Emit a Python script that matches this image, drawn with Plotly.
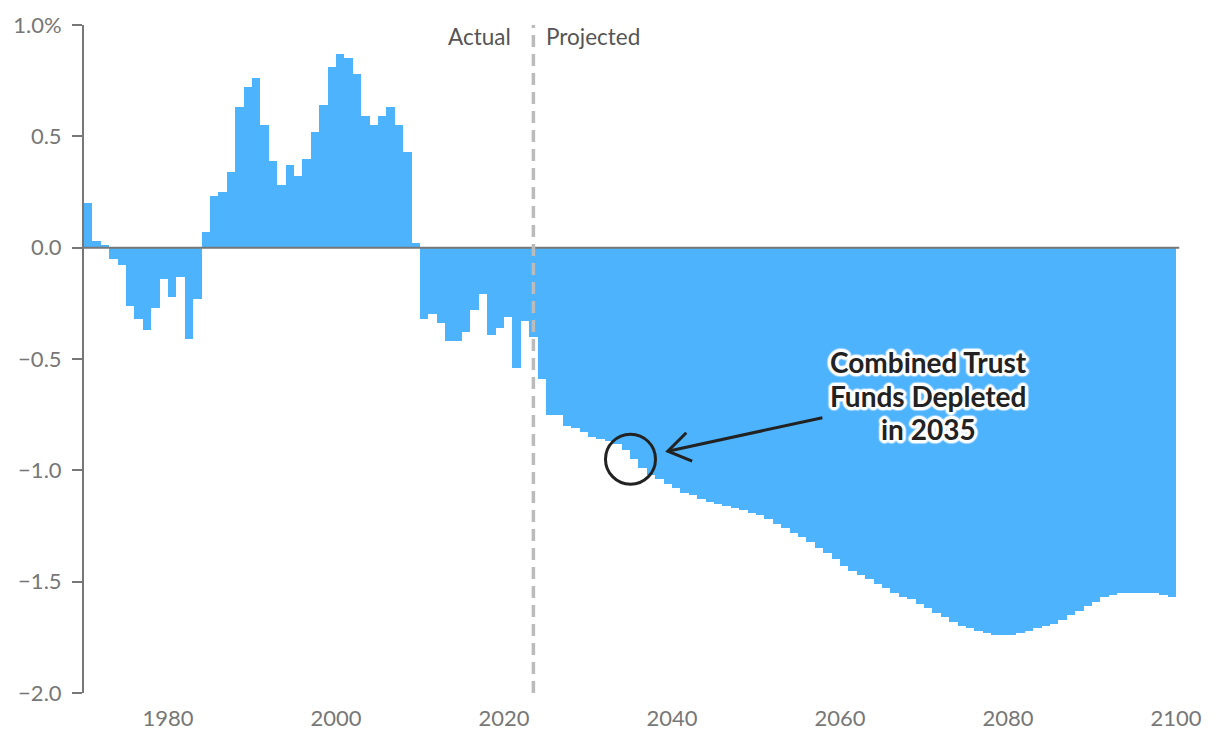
import plotly.graph_objects as go

years = list(range(1970, 2100))
values = [
    0.20, 0.03, 0.01, -0.05, -0.08, -0.26, -0.32, -0.37, -0.27, -0.14,   # 1970-1979
    -0.22, -0.13, -0.41, -0.23, 0.07, 0.23, 0.25, 0.34, 0.63, 0.72,      # 1980-1989
    0.76, 0.55, 0.39, 0.28, 0.37, 0.32, 0.40, 0.52, 0.64, 0.81,          # 1990-1999
    0.87, 0.85, 0.78, 0.59, 0.55, 0.59, 0.63, 0.55, 0.43, 0.02,          # 2000-2009
    -0.32, -0.30, -0.34, -0.42, -0.42, -0.38, -0.28, -0.21, -0.39, -0.36,  # 2010-2019
    -0.31, -0.54, -0.33, -0.40, -0.59, -0.75, -0.75, -0.80, -0.81, -0.83,  # 2020-2029
    -0.85, -0.86, -0.87, -0.88, -0.91, -0.95, -0.99, -1.02, -1.04, -1.06,  # 2030-2039
    -1.08, -1.10, -1.11, -1.13, -1.14, -1.15, -1.16, -1.17, -1.18, -1.19,  # 2040-2049
    -1.20, -1.22, -1.24, -1.26, -1.28, -1.30, -1.32, -1.35, -1.37, -1.40,  # 2050-2059
    -1.43, -1.45, -1.47, -1.49, -1.51, -1.53, -1.55, -1.57, -1.58, -1.60,  # 2060-2069
    -1.62, -1.64, -1.66, -1.68, -1.70, -1.71, -1.72, -1.73, -1.74, -1.74,  # 2070-2079
    -1.74, -1.73, -1.72, -1.71, -1.70, -1.69, -1.67, -1.65, -1.63, -1.61,  # 2080-2089
    -1.59, -1.57, -1.56, -1.55, -1.55, -1.55, -1.55, -1.55, -1.56, -1.57,  # 2090-2099
]

x_tick_vals = [1980, 2000, 2020, 2040, 2060, 2080, 2100]
x_tick_text = ["1980", "2000", "2020", "2040", "2060", "2080", "2100"]
y_tick_vals = [-2.0, -1.5, -1.0, -0.5, 0.0, 0.5, 1.0]
y_tick_text = ["\u22122.0", "\u22121.5", "\u22121.0", "\u22120.5", "0.0", "0.5", "1.0%"]

split_year = 2023.5
depleted_year = 2035
depleted_value = -0.95
note_lines = ["Combined Trust", "Funds Depleted", "in 2035"]

BAR = "#4db3fd"
AXIS = "#777777"
FONT = "Lato"

fig = go.Figure()
fig.add_trace(go.Bar(
    x=years, y=values, width=1, offset=0,
    marker=dict(color=BAR, line=dict(width=0)),
    hoverinfo="x+y",
))

halo_pts = [(3, 0), (-3, 0), (0, 3), (0, -3), (2, 2), (-2, 2), (2, -2), (-2, -2),
            (3, 1), (3, -1), (-3, 1), (-3, -1), (1, 3), (-1, 3), (1, -3), (-1, -3)]
halo = ", ".join(f"{dx}px {dy}px 1.5px white" for dx, dy in halo_pts)

note_annotations = [
    dict(x=2070.5, y=-0.668, xref="x", yref="y", text=line, showarrow=False,
         xanchor="center", yanchor="middle", yshift=34 - 33.5 * i,
         font=dict(family=FONT, size=28, color="#222222", weight="bold", shadow=halo))
    for i, line in enumerate(note_lines)
]

fig.update_layout(
    width=1220, height=746,
    margin=dict(l=84, r=44, t=25, b=53),
    paper_bgcolor="white", plot_bgcolor="white",
    bargap=0, showlegend=False,
    font=dict(family=FONT, size=22, color=AXIS),
    xaxis=dict(
        range=[1970, 2100], tickmode="array", tickvals=x_tick_vals, ticktext=x_tick_text,
        showline=False, ticks="", showgrid=False, zeroline=False,
        tickfont=dict(family=FONT, size=22, color=AXIS), ticklabelstandoff=10,
    ),
    yaxis=dict(
        range=[-2, 1], tickmode="array", tickvals=y_tick_vals, ticktext=y_tick_text,
        showline=True, linecolor=AXIS, linewidth=2,
        ticks="outside", ticklen=10, tickwidth=2, tickcolor=AXIS,
        showgrid=False, zeroline=False,
        tickfont=dict(family=FONT, size=22, color=AXIS), ticklabelstandoff=6,
    ),
    shapes=[
        dict(type="line", xref="x domain", yref="y", x0=0, x1=1.003, y0=0, y1=0,
             line=dict(color=AXIS, width=2), layer="above"),
        dict(type="line", xref="x", yref="paper", x0=split_year, x1=split_year, y0=0, y1=1,
             line=dict(color="#bbbbbb", width=3.5, dash="12px,7px"), layer="above"),
        dict(type="circle", xref="x", yref="y", xsizemode="pixel", ysizemode="pixel",
             xanchor=depleted_year + 0.06, yanchor=depleted_value,
             x0=-25, x1=25, y0=-25, y1=25,
             line=dict(color="#222222", width=3), layer="above"),
        dict(type="line", xref="x", yref="y", x0=2057.9, y0=-0.764, x1=2039.5, y1=-0.914,
             line=dict(color="#222222", width=3), layer="above"),
        dict(type="path", xref="x", yref="y",
             path="M 2041.7 -0.831 L 2039.5 -0.914 L 2042.4 -0.959",
             line=dict(color="#222222", width=3), layer="above"),
    ],
    annotations=[
        dict(x=split_year, y=1, xref="x", yref="paper", text="Actual", showarrow=False,
             xanchor="right", yanchor="middle", xshift=-20, yshift=-11,
             font=dict(family=FONT, size=22.5, color="#555555")),
        dict(x=split_year, y=1, xref="x", yref="paper", text="Projected", showarrow=False,
             xanchor="left", yanchor="middle", xshift=11, yshift=-11,
             font=dict(family=FONT, size=22.5, color="#555555")),
    ] + note_annotations,
)

fig.write_html("out.html")
